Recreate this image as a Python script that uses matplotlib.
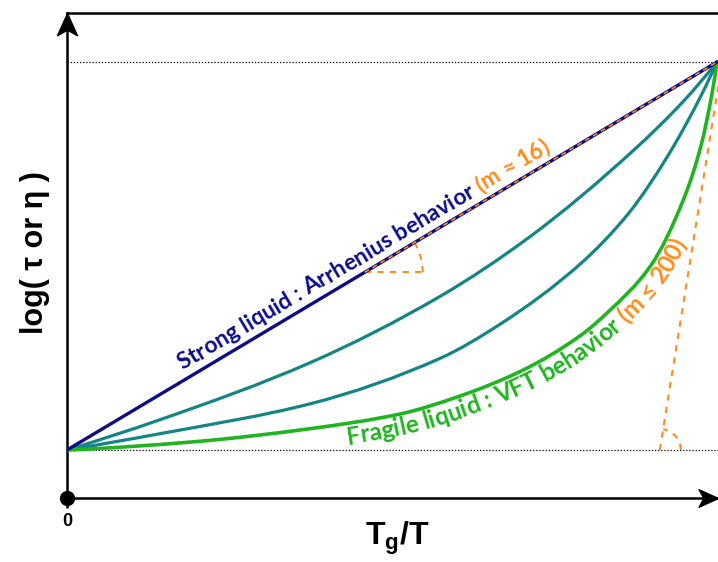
import numpy as np
import matplotlib.pyplot as plt
from matplotlib.path import Path
from matplotlib.patches import Arc, PathPatch
from matplotlib.transforms import IdentityTransform
from matplotlib.font_manager import FontProperties

plt.rcParams['mathtext.fontset'] = 'custom'
plt.rcParams['mathtext.bf'] = 'Liberation Sans:bold'
plt.rcParams['mathtext.rm'] = 'Liberation Sans:bold'
plt.rcParams['mathtext.it'] = 'Liberation Sans:bold'

# Tg/T (normalised) and log(tau) (normalised between Tg and the high-T limit)
strong_x = [0.0, 1.0]
strong_y = [0.0, 1.0]

inter1_x = [0.0, 0.143, 0.374, 0.575, 0.710, 0.872, 0.949, 1.0]
inter1_y = [0.0, 0.078, 0.225, 0.397, 0.547, 0.773, 0.900, 1.0]

inter2_x = [0.0, 0.143, 0.374, 0.575, 0.667, 0.790, 0.864, 0.925, 0.976, 1.0]
inter2_y = [0.0, 0.042, 0.119, 0.237, 0.325, 0.480, 0.610, 0.760, 0.915, 1.0]

fragile_x = [0.0, 0.194, 0.374, 0.513, 0.601, 0.698, 0.790, 0.832, 0.898, 0.949, 0.975, 0.993, 1.0]
fragile_y = [0.0, 0.021, 0.055, 0.093, 0.137, 0.203, 0.295, 0.355, 0.475, 0.648, 0.782, 0.925, 1.0]

# slopes at Tg (fragility index)
strong_tan_x = [0.458, 1.0]
strong_tan_y = [0.458, 1.0]
fragile_tan_x = [0.912, 1.008]
fragile_tan_y = [0.0, 1.0]

strong_label = "Strong liquid : Arrhenius behavior "
strong_m = "(m \u2248 16)"
fragile_label = "Fragile liquid : VFT behavior "
fragile_m = "(m \u2264 200)"

NAVY = '#0c0c86'
TEAL = '#148585'
GREEN = '#20b420'
ORANGE = '#ff8c1a'
LABEL_FONT = ['Lato', 'DejaVu Sans']

W, H = 718, 562
fig = plt.figure(figsize=(W / 100, H / 100), dpi=100)
ax = fig.add_axes([67 / W, 64 / H, 1 - 67 / W, 485 / H])
ax.set_xlim(0, 651 / 650)
ax.set_ylim(-48 / 388, 437 / 388)
x0, x1 = ax.get_xlim()
y0, y1 = ax.get_ylim()

for side in ['left', 'top', 'bottom']:
    ax.spines[side].set_linewidth(1.8)
ax.spines['right'].set_visible(False)
ax.set_yticks([])
ax.set_xticks([0])
ax.set_xticklabels(['0'], fontsize=13, fontweight='bold', family='Liberation Sans')
ax.tick_params(axis='x', length=7, width=1.8, pad=4)

# arrow heads on both axes
up = Path([(0, 0), (-0.45, -1), (0, -0.75), (0.45, -1), (0, 0)],
          [Path.MOVETO, Path.LINETO, Path.LINETO, Path.LINETO, Path.CLOSEPOLY])
right = Path([(0, 0), (-1, 0.45), (-0.75, 0), (-1, -0.45), (0, 0)],
             [Path.MOVETO, Path.LINETO, Path.LINETO, Path.LINETO, Path.CLOSEPOLY])
ax.plot([0], [y1], marker=up, ms=32, color='k', clip_on=False, zorder=6)
ax.plot([x1], [y0], marker=right, ms=28, color='k', clip_on=False, zorder=6)
ax.plot([0], [y0], 'o', ms=10, color='k', clip_on=False, zorder=6)

# Tg level and high-temperature limit
ax.axhline(0, color='k', lw=0.9, ls=(0, (1, 1.5)), zorder=1)
ax.axhline(1, color='k', lw=0.9, ls=(0, (1, 1.5)), zorder=1)


def smooth_curve(xs, ys):
    # monotone cubic through the points, written as Bezier segments
    x = np.asarray(xs, float)
    y = np.asarray(ys, float)
    h = np.diff(x)
    d = np.diff(y) / h
    m = np.empty_like(x)
    m[0], m[-1] = d[0], d[-1]
    for i in range(1, len(x) - 1):
        w1 = 2 * h[i] + h[i - 1]
        w2 = h[i] + 2 * h[i - 1]
        m[i] = (w1 + w2) / (w1 / d[i - 1] + w2 / d[i])
    if len(x) > 2:
        m[0] = max(0, ((2 * h[0] + h[1]) * d[0] - h[0] * d[1]) / (h[0] + h[1]))
        m[-1] = ((2 * h[-1] + h[-2]) * d[-1] - h[-1] * d[-2]) / (h[-1] + h[-2])
    verts = [(x[0], y[0])]
    codes = [Path.MOVETO]
    for i in range(len(x) - 1):
        verts += [(x[i] + h[i] / 3, y[i] + m[i] * h[i] / 3),
                  (x[i + 1] - h[i] / 3, y[i + 1] - m[i + 1] * h[i] / 3),
                  (x[i + 1], y[i + 1])]
        codes += [Path.CURVE4] * 3
    return Path(verts, codes)


paths = {}
for key, xs, ys, color, lw, z in [('i1', inter1_x, inter1_y, TEAL, 2.3, 3),
                                  ('i2', inter2_x, inter2_y, TEAL, 2.3, 3),
                                  ('fr', fragile_x, fragile_y, GREEN, 2.6, 3),
                                  ('st', strong_x, strong_y, NAVY, 2.4, 4)]:
    paths[key] = smooth_curve(xs, ys)
    ax.add_patch(PathPatch(paths[key], fill=False, edgecolor=color, lw=lw,
                           capstyle='round', zorder=z))

ax.plot(strong_tan_x, strong_tan_y, color=ORANGE, lw=1.2, ls=(0, (3, 2.5)), zorder=5)
ax.plot(fragile_tan_x, fragile_tan_y, color=ORANGE, lw=1.5, ls=(0, (3, 3)), zorder=2)

# horizontal reference under the strong-liquid slope
ax.plot([strong_tan_x[0], strong_tan_x[0] + 60 / 650], [strong_tan_y[0]] * 2,
        color=ORANGE, lw=1.5, ls=(0, (3, 3)), zorder=2)


def slope_arc(xa, ya, xb, yb, radius):
    p0 = ax.transData.transform((xa, ya))
    p1 = ax.transData.transform((xb, yb))
    ang = np.degrees(np.arctan2(p1[1] - p0[1], p1[0] - p0[0]))
    arc = Arc(p0, 2 * radius, 2 * radius, theta1=0, theta2=ang,
              transform=IdentityTransform(), color=ORANGE, lw=1.5, ls=(0, (3, 3)))
    ax.add_patch(arc)


slope_arc(strong_tan_x[0], strong_tan_y[0], strong_tan_x[1], strong_tan_y[1], 58)
slope_arc(fragile_tan_x[0], fragile_tan_y[0], fragile_tan_x[1], fragile_tan_y[1], 21)

renderer = fig.canvas.get_renderer()


def advance(ch, prop):
    wa = renderer.get_text_width_height_descent('x' + ch + 'x', prop, ismath=False)[0]
    wb = renderer.get_text_width_height_descent('xx', prop, ismath=False)[0]
    return wa - wb


def text_along(path, pieces, start_x, offset, size):
    # lay characters one by one along a curve, offset from it by a fixed distance
    prop = FontProperties(family=LABEL_FONT, weight='bold', size=size)
    pts = ax.transData.transform_path(path).to_polygons(closed_only=False)[0]
    d = np.gradient(pts, axis=0)
    d /= np.hypot(d[:, 0], d[:, 1])[:, None]
    normal = np.column_stack([d[:, 1], -d[:, 0]])
    base = pts + offset * normal
    seg = np.diff(base, axis=0)
    s = np.concatenate([[0], np.cumsum(np.hypot(seg[:, 0], seg[:, 1]))])
    s_mid = 0.5 * (s[1:] + s[:-1])
    seg_ang = np.degrees(np.unwrap(np.arctan2(seg[:, 1], seg[:, 0])))
    s_now = np.interp(ax.transData.transform((start_x, 0))[0], base[:, 0], s)
    for chunk, color in pieces:
        for ch in chunk:
            w = advance(ch, prop)
            mid = s_now + w / 2
            px = np.interp(mid, s, base[:, 0])
            py = np.interp(mid, s, base[:, 1])
            ang = np.interp(mid, s_mid, seg_ang)
            ax.text(px, py, ch, transform=IdentityTransform(), fontproperties=prop,
                    color=color, ha='center', va='baseline', rotation=ang,
                    rotation_mode='anchor', zorder=7)
            s_now += w


text_along(paths['st'], [(strong_label, NAVY), (strong_m, ORANGE)], 0.178, -9, 16.5)
text_along(paths['fr'], [(fragile_label, GREEN), (fragile_m, ORANGE)], 0.432, 21, 17.5)

fig.text(35 / W, 1 - 253 / H, 'log( \u03c4 or \u03b7 )', rotation=90, ha='center', va='center',
         fontsize=22, fontweight='bold', family='Liberation Sans')
fig.text(397 / W, 1 - 538 / H, r'$\mathbf{T_g/T}$', ha='center', va='center', fontsize=23)

fig.savefig('out.png', dpi=100)
